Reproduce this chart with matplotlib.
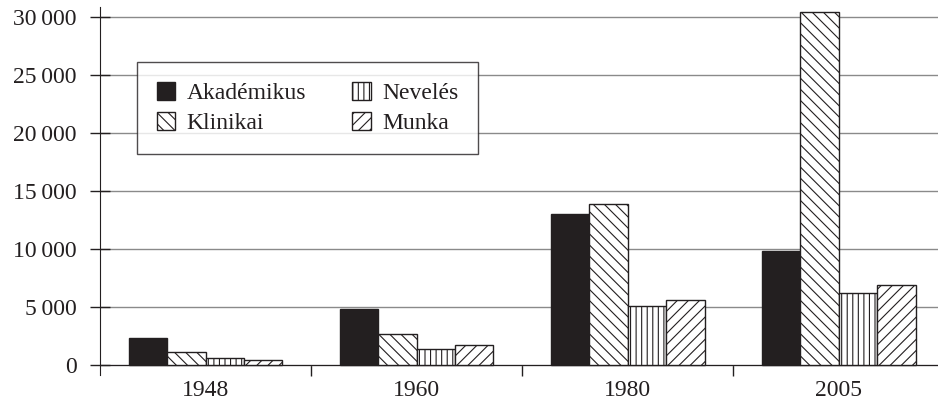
import matplotlib.pyplot as plt
import numpy as np

plt.rcParams['font.family'] = ['Liberation Serif', 'DejaVu Serif']
plt.rcParams['hatch.linewidth'] = 0.8

# data
years = ["1948", "1960", "1980", "2005"]
series = ["Akadémikus", "Klinikai", "Nevelés", "Munka"]
akademikus = [2300, 4800, 13000, 9800]
klinikai = [1100, 2700, 13900, 30500]
neveles = [600, 1350, 5100, 6250]
munka = [400, 1700, 5600, 6900]
ytick_labels = ["0", "5\u2009000", "10\u2009000", "15\u2009000", "20\u2009000",
                "25\u2009000", "30\u2009000"]

ink = "#231f20"
values = [akademikus, klinikai, neveles, munka]
fills = [ink, "white", "white", "white"]
hatches = [None, "\\\\\\", "|||", "///"]

fig = plt.figure(figsize=(9.38, 4.03), dpi=100)
ax = fig.add_axes([100 / 938, 28 / 403, 838 / 938, 368 / 403])

x = np.arange(len(years))
w = 0.182
for i, (name, vals) in enumerate(zip(series, values)):
    ax.bar(x + (i - 1.5) * w, vals, w, color=fills[i], edgecolor=ink,
           hatch=hatches[i], linewidth=1.0, label=name, zorder=3)

ax.set_xlim(-0.5, 3.47)
ax.set_ylim(-860, 30890)

# axes look
for s in ["top", "right"]:
    ax.spines[s].set_visible(False)
ax.spines["left"].set_color(ink)
ax.spines["bottom"].set_color(ink)
ax.spines["bottom"].set_position(("data", 0))

ax.set_yticks(np.arange(0, 30001, 5000))
ax.set_yticklabels(ytick_labels)
ax.tick_params(axis="y", direction="inout", length=14, width=1, colors=ink,
               labelsize=17, pad=10)
ax.yaxis.grid(True, color="#8a8a8a", linewidth=1.0, zorder=0)
ax.set_axisbelow(True)

ax.set_xticks(x)
ax.set_xticklabels(years)
ax.set_xticks(np.arange(0.5, 3.0, 1), minor=True)
ax.tick_params(axis="x", which="major", length=0, labelsize=17, colors=ink, pad=11)
ax.tick_params(axis="x", which="minor", direction="out", length=8, width=1, color=ink)

leg = ax.legend(ncol=2, loc="upper left", bbox_to_anchor=(0.044, 0.851),
                borderaxespad=0, fontsize=17, frameon=True, fancybox=False,
                edgecolor=ink, handlelength=0.78, handleheight=0.78,
                handletextpad=0.47, columnspacing=1.97, borderpad=0.85,
                labelspacing=0.35)
leg.get_frame().set_linewidth(1.0)
for t in leg.get_texts():
    t.set_color(ink)

fig.savefig("out.png", dpi=100)
